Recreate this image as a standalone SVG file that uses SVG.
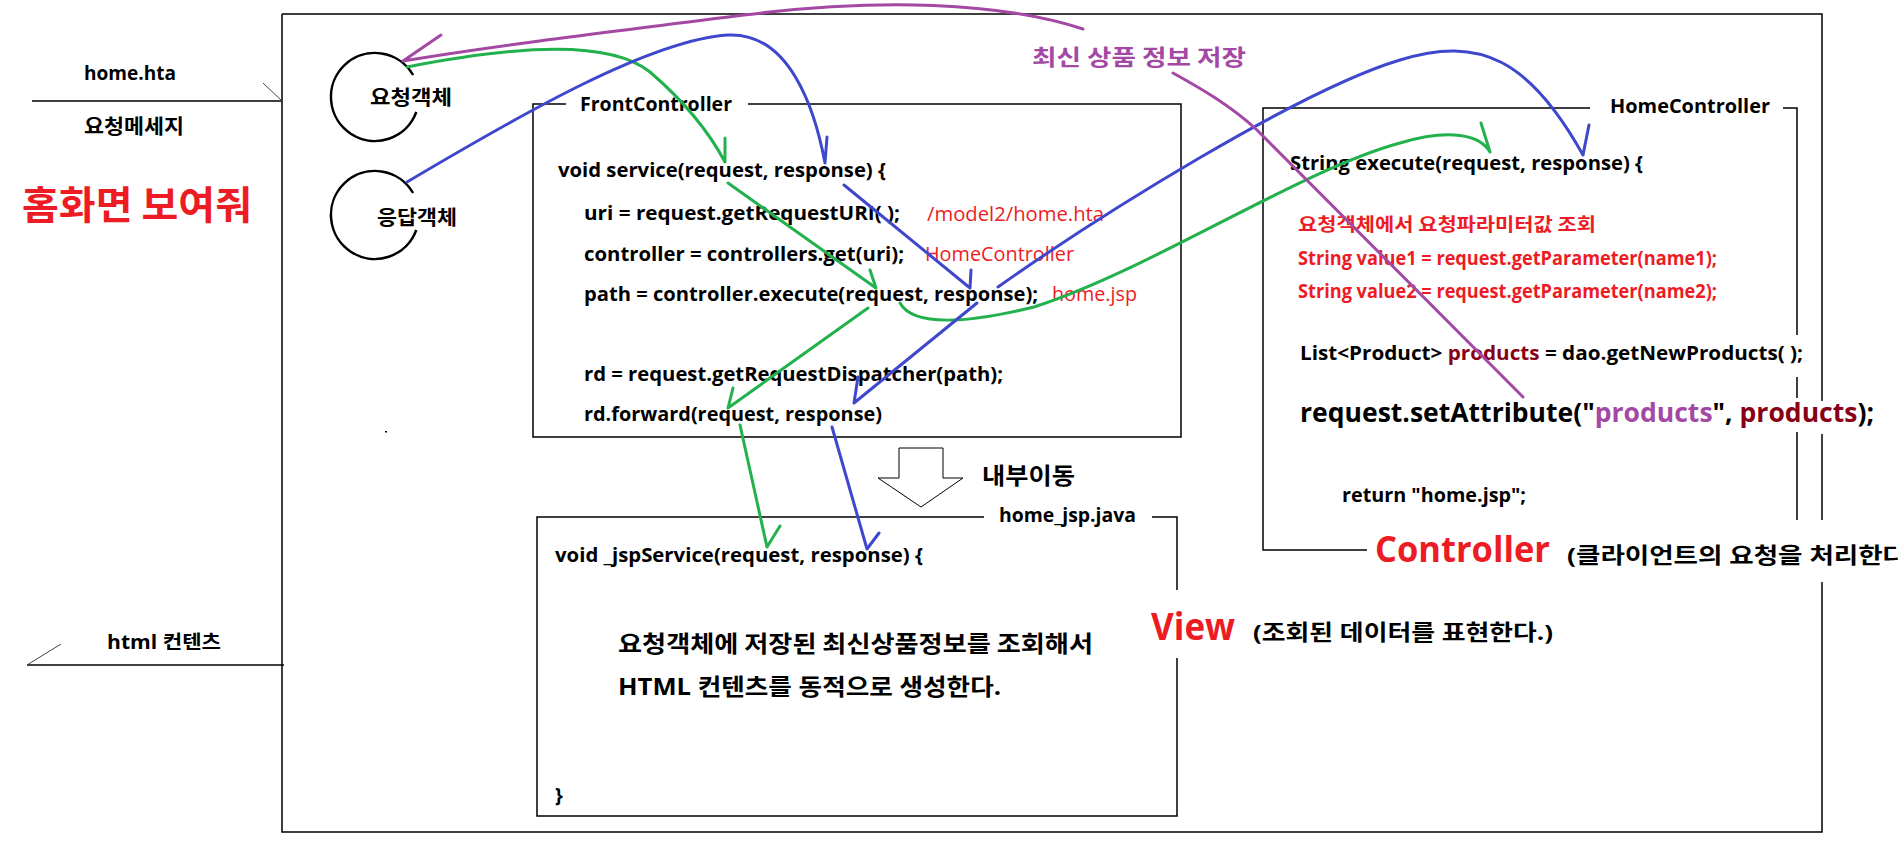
<svg xmlns="http://www.w3.org/2000/svg" width="1898" height="859" viewBox="0 0 1898 859">
<style>
.t{font-family:'Open Sans','Noto Sans CJK KR',sans-serif;font-weight:bold;fill:#000}
.k{font-family:'Noto Sans CJK KR',sans-serif;font-weight:bold;fill:#000}
.r{fill:#ED1C24}
.n{font-weight:normal}
.pu{fill:#A349A4}
.dr{fill:#880015}
.ln{fill:none;stroke:#000;stroke-width:1.5}
.thin{fill:none;stroke:#444;stroke-width:1}
.c{fill:none;stroke-width:3;stroke-linecap:round;stroke-linejoin:round}
.g{stroke:#22B14C}
.b{stroke:#3F48CC}
.p{stroke:#A349A4}
</style>
<rect width="1898" height="859" fill="#fff"/>

<g id="outer">
<path class="ln" d="M282,14 H1822 V401 M1822,434 V520 M1822,582 V832 H282 V14"/>
<rect x="385" y="431" width="2" height="1.5" fill="#000"/>
</g>

<g id="client">
<text class="t" x="84" y="80" font-size="19.5" textLength="92" lengthAdjust="spacingAndGlyphs">home.hta</text>
<path class="ln" d="M32,101 H282"/>
<path class="thin" d="M263,83 L282,101"/>
<text class="k" x="84" y="134" font-size="20" textLength="100" lengthAdjust="spacingAndGlyphs">요청메세지</text>
<text class="k r" x="22" y="219" font-size="39" textLength="230" lengthAdjust="spacingAndGlyphs">홈화면 보여줘</text>
<text class="t" x="107" y="649" font-size="19.5" textLength="114" lengthAdjust="spacingAndGlyphs">html 컨텐츠</text>
<path class="ln" d="M27,665 H284"/>
<path class="thin" d="M27,665 L61,644"/>
</g>

<g id="request-object">
<path fill="none" stroke="#000" stroke-width="2.5" d="M416.3,112 A44,44 0 1 1 413.1,75"/>
<text class="k" x="370" y="105" font-size="20" textLength="82" lengthAdjust="spacingAndGlyphs">요청객체</text>
</g>

<g id="response-object">
<path fill="none" stroke="#000" stroke-width="2.5" d="M416.3,230 A44,44 0 1 1 413.1,193"/>
<text class="k" x="377" y="225" font-size="20" textLength="80" lengthAdjust="spacingAndGlyphs">응답객체</text>
</g>

<g id="front-controller">
<path class="ln" d="M566,104 H533 V437 H1181 V104 H748"/>
<text class="t" x="580" y="111" font-size="19.5" textLength="152" lengthAdjust="spacingAndGlyphs">FrontController</text>
<text class="t" x="558" y="177" font-size="20" textLength="328" lengthAdjust="spacingAndGlyphs">void service(request, response) {</text>
<text class="t" x="584" y="220" font-size="20" textLength="316" lengthAdjust="spacingAndGlyphs">uri = request.getRequestURI( );</text>
<text class="t r n" x="927" y="221" font-size="20" textLength="177" lengthAdjust="spacingAndGlyphs">/model2/home.hta</text>
<text class="t" x="584" y="261" font-size="20" textLength="320" lengthAdjust="spacingAndGlyphs">controller = controllers.get(uri);</text>
<text class="t r n" x="925" y="261" font-size="20" textLength="149" lengthAdjust="spacingAndGlyphs">HomeController</text>
<text class="t" x="584" y="301" font-size="20" textLength="454" lengthAdjust="spacingAndGlyphs">path = controller.execute(request, response);</text>
<text class="t r n" x="1052" y="301" font-size="20" textLength="85" lengthAdjust="spacingAndGlyphs">home.jsp</text>
<text class="t" x="584" y="381" font-size="20" textLength="419" lengthAdjust="spacingAndGlyphs">rd = request.getRequestDispatcher(path);</text>
<text class="t" x="584" y="421" font-size="20" textLength="298" lengthAdjust="spacingAndGlyphs">rd.forward(request, response)</text>
</g>

<g id="internal-move">
<polygon points="899,448 943,448 943,478 963,478 921,507 878,478 899,478" fill="#fff" stroke="#000" stroke-width="1"/>
<text class="k" x="982" y="484" font-size="23" textLength="93" lengthAdjust="spacingAndGlyphs">내부이동</text>
</g>

<g id="home-jsp">
<path class="ln" d="M984,517 H537 V816 H1177 V658 M1177,590 V517 H1152"/>
<text class="t" x="999" y="522" font-size="19.5" textLength="137" lengthAdjust="spacingAndGlyphs">home_jsp.java</text>
<text class="t" x="555" y="562" font-size="20" textLength="368" lengthAdjust="spacingAndGlyphs">void _jspService(request, response) {</text>
<text class="k" x="618" y="652" font-size="23" textLength="475" lengthAdjust="spacingAndGlyphs">요청객체에 저장된 최신상품정보를 조회해서</text>
<text class="t" x="618" y="695" font-size="23" textLength="383" lengthAdjust="spacingAndGlyphs">HTML 컨텐츠를 동적으로 생성한다.</text>
<text class="t" x="555" y="802" font-size="20">}</text>
</g>

<g id="view-label">
<text class="t r" x="1151" y="640" font-size="37" textLength="84" lengthAdjust="spacingAndGlyphs">View</text>
<text class="t" x="1253" y="640" font-size="22" textLength="300" lengthAdjust="spacingAndGlyphs">(조회된 데이터를 표현한다.)</text>
</g>

<g id="home-controller">
<path class="ln" d="M1590,108 H1263 V550 H1367 M1783,108 H1797 V335 M1797,377 V398 M1797,432 V520"/>
<text class="t" x="1610" y="113" font-size="19.5" textLength="160" lengthAdjust="spacingAndGlyphs">HomeController</text>
<text class="t" x="1290" y="170" font-size="20" textLength="353" lengthAdjust="spacingAndGlyphs">String execute(request, response) {</text>
<text class="k r" x="1298" y="231" font-size="18" textLength="298" lengthAdjust="spacingAndGlyphs">요청객체에서 요청파라미터값 조회</text>
<text class="t r" x="1298" y="265" font-size="19" textLength="419" lengthAdjust="spacingAndGlyphs">String value1 = request.getParameter(name1);</text>
<text class="t r" x="1298" y="298" font-size="19" textLength="419" lengthAdjust="spacingAndGlyphs">String value2 = request.getParameter(name2);</text>
<text class="t" x="1300" y="360" font-size="20" textLength="503" lengthAdjust="spacingAndGlyphs">List&lt;Product&gt; <tspan class="dr">products</tspan> = dao.getNewProducts( );</text>
<text class="t" x="1300" y="422" font-size="27" textLength="574" lengthAdjust="spacingAndGlyphs">request.setAttribute("<tspan class="pu">products</tspan>", <tspan class="dr">products</tspan>);</text>
<text class="t" x="1342" y="502" font-size="19" textLength="184" lengthAdjust="spacingAndGlyphs">return "home.jsp";</text>
</g>

<g id="controller-label">
<text class="t r" x="1375" y="562" font-size="35" textLength="175" lengthAdjust="spacingAndGlyphs">Controller</text>
<text class="t" x="1567" y="563" font-size="22" textLength="340" lengthAdjust="spacingAndGlyphs">(클라이언트의 요청을 처리한다</text>
</g>

<g id="store-label">
<text class="k pu" x="1032" y="65" font-size="22" textLength="214" lengthAdjust="spacingAndGlyphs">최신 상품 정보 저장</text>
</g>

<g id="connectors">
<path class="c g" d="M407,67 C520,45 610,40 650,72 Q700,115 725,162 M725,138 L725,162"/>
<path class="c g" d="M728,183 L876,288 M870,270 L876,288"/>
<path class="c g" d="M868,308 L728,408 M733,388 L728,408"/>
<path class="c g" d="M740,425 L767,547 M780,526 L767,547"/>
<path class="c g" d="M900,303 C915,330 980,320 1034,307 C1150,270 1300,170 1400,143 C1450,128 1480,135 1490,152 M1481,123 L1490,152"/>
<path class="c b" d="M407,182 C520,115 650,40 728,35 C790,32 815,110 825,163 M827,137 L825,163"/>
<path class="c b" d="M844,185 L970,288 M971,270 L970,288"/>
<path class="c b" d="M998,287 C1100,215 1300,90 1400,60 C1480,35 1530,60 1583,155 M1589,125 L1583,155"/>
<path class="c b" d="M977,303 L854,403 M858,377 L854,403"/>
<path class="c b" d="M832,427 L867,549 M879,533 L867,549"/>
<path class="c p" d="M1173,73 C1200,88 1230,105 1257,130 L1523,397"/>
<path class="c p" d="M1083,29 C1000,2 880,-2 744,15 S500,45 403,61 M403,61 L441,35"/>
</g>
</svg>
